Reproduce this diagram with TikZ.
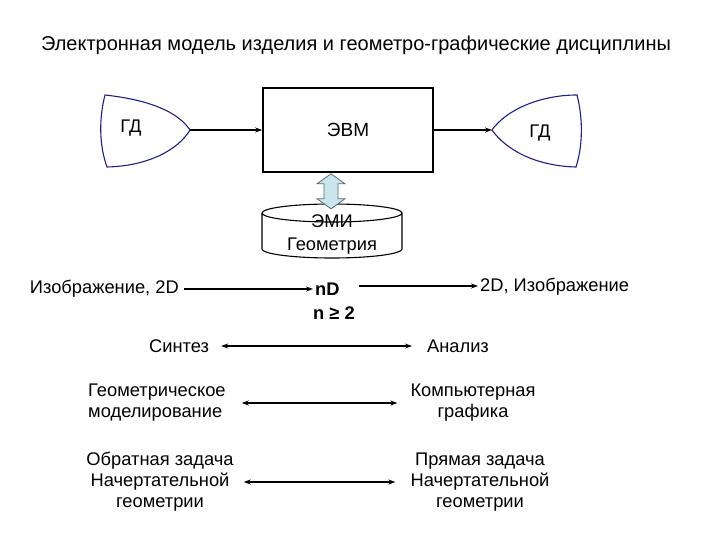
\documentclass[tikz,border=0pt]{standalone}
\usepackage{fontspec}
\setmainfont{Liberation Sans}
\usepackage{tikz}
\usetikzlibrary{arrows.meta,positioning,calc}

\definecolor{gdblue}{RGB}{30,30,140}
\definecolor{arrfill}{RGB}{200,230,236}
\definecolor{arrdraw}{RGB}{90,110,120}

\begin{document}
\begin{tikzpicture}[
  x=1pt, y=1pt,
  txt/.style={font=\fontsize{18.3}{21}\selectfont, inner sep=2pt},
  blk/.style={txt, align=center},
  bold/.style={txt, font=\fontsize{18.3}{21}\selectfont\bfseries},
  evmbox/.style={draw, line width=1.6pt, minimum width=170pt, minimum height=84pt, font=\fontsize{19}{21}\selectfont},
  gd/.style={draw=gdblue, line width=1.1pt},
  arr/.style={-{Stealth[length=7pt,width=5pt]}, line width=1.1pt},
  dbl/.style={{Stealth[length=7pt,width=5pt]}-{Stealth[length=7pt,width=5pt]}, line width=1.1pt}
]
\useasboundingbox (0,0) rectangle (720,-540);

\node[txt, font=\fontsize{20}{22}\selectfont] (title) at (356,-45) {Электронная модель изделия и геометро-графические дисциплины};

% left and right GD
\draw[gd] (105,-95) .. controls (150,-100) and (178,-112) .. (190,-130)
  .. controls (178,-150) and (148,-166) .. (107,-167)
  .. controls (99,-145) and (99,-118) .. (105,-95) -- cycle;
\coordinate (gdLtip) at (190,-130);
\node[txt] (gdL) at (131,-128) {ГД};

\draw[gd] (577,-95) .. controls (540,-95) and (506,-110) .. (492,-130)
  .. controls (506,-150) and (536,-166) .. (576,-167)
  .. controls (583,-145) and (583,-118) .. (577,-95) -- cycle;
\coordinate (gdRtip) at (492,-130);
\node[txt] (gdR) at (540,-133) {ГД};

\node[evmbox] (evm) at (348,-130) {ЭВМ};

\draw[arr] (gdLtip) -- (evm.west);
\draw[arr] (evm.east) -- (gdRtip);

% EMI cylinder
\draw[line width=1.1pt] (262,-213) -- (262,-249) arc[start angle=180, end angle=360, x radius=70, y radius=9]
  -- (402,-213) arc[start angle=0, end angle=360, x radius=70, y radius=9];
\node[txt] (emi) at (332,-221) {ЭМИ};
\node[txt] (geom) at (332,-246) {Геометрия};

\draw[draw=arrdraw, fill=arrfill, line width=0.8pt]
  ($(evm.south)+(-17,-1)$) coordinate (dtop) -- ++(14,-10) -- ++(-7,0) -- ++(0,-15) -- ++(7,0)
  -- ++(-14,-10) -- ++(-14,10) -- ++(7,0) -- ++(0,15) -- ++(-7,0) -- cycle;

% nD row
\node[txt, anchor=east] (img) at (181,-289) {Изображение, 2D};
\node[bold, anchor=west] (nd) at (313,-289) {nD};
\node[bold, anchor=west] (ncond) at (311,-313) {n ≥ 2};
\node[txt, anchor=west] (img2) at (478,-287) {2D, Изображение};

\draw[arr] ([xshift=3pt]img.east) -- (nd.west);
\coordinate (ndout) at ($(ncond.east|-nd.east)+(2,3)$);
\draw[arr] (ndout) -- (ndout-|img2.west);

% synthesis / analysis
\node[txt] (synth) at (179,-346) {Синтез};
\node[txt] (anal) at (458,-346) {Анализ};
\draw[dbl] ([xshift=10pt]synth.east) -- ([xshift=-13pt]anal.west);

\node[txt, align=left, anchor=west] (geomod) at (86,-403) {Геометрическое\\моделирование};
\node[blk] (compgr) at (473,-403) {Компьютерная\\графика};
\draw[dbl] ([xshift=14pt]geomod.east) -- ([xshift=-11pt]compgr.west);

\node[blk] (inverse) at (160,-482) {Обратная задача\\Начертательной\\геометрии};
\node[blk] (direct) at (480,-482) {Прямая задача\\Начертательной\\геометрии};
\draw[dbl] ([xshift=8pt]inverse.east) -- ([xshift=-13pt]direct.west);

\end{tikzpicture}
\end{document}
